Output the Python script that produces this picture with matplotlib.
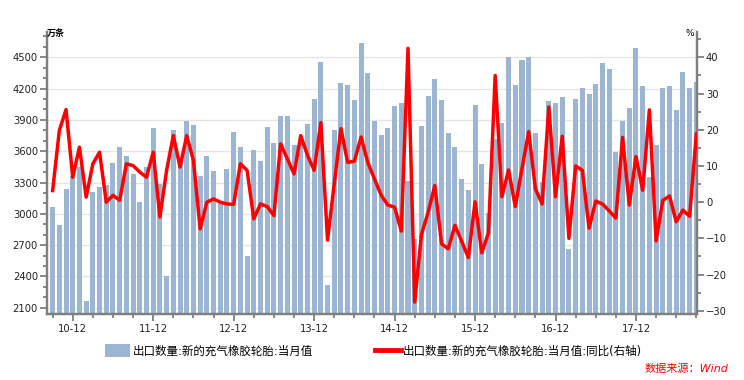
import numpy as np
import pandas as pd
import matplotlib
matplotlib.use("Agg")
import matplotlib.pyplot as plt
from matplotlib.patches import Patch
from matplotlib.lines import Line2D

# monthly data, 2010-09 .. 2018-09
months = pd.period_range("2010-09", "2018-09", freq="M").strftime("%y-%m").tolist()

export_qty = [3065, 2893, 3238, 3360, 3452, 2164, 3209, 3257, 3276, 3487, 3640, 3554,
              3381, 3113, 3449, 3823, 3286, 2404, 3804, 3540, 3890, 3852, 3363, 3554,
              3410, 3113, 3430, 3785, 3640, 2596, 3611, 3506, 3833, 3679, 3938, 3938,
              3660, 3690, 3862, 4101, 4456, 2318, 3804, 4254, 4235, 4091, 4638, 4350,
              3890, 3756, 3823, 4034, 4062, 3318, 2760, 3842, 4130, 4293, 4091, 3775,
              3640, 3334, 3228, 4043, 3478, 3008, 3717, 3871, 4504, 4235, 4475, 4504,
              3775, 3305, 4082, 4062, 4120, 2662, 4101, 4206, 4149, 4245, 4446, 4388,
              3592, 3890, 4014, 4590, 4225, 3353, 3660, 4206, 4225, 3994, 4359, 4206,
              4264]

export_yoy = [3.2, 19.8, 25.6, 6.9, 15.2, 1.4, 10.6, 13.8, 0.0, 1.9, 0.5, 10.6,
              10.1, 8.3, 6.9, 13.8, -4.1, 8.8, 18.4, 9.7, 18.4, 11.5, -7.4, 0.0,
              0.9, 0.0, -0.5, -0.6, 10.6, 8.8, -4.6, -0.5, -1.2, -3.7, 16.1, 12.0,
              7.8, 18.4, 13.0, 8.8, 22.0, -10.5, 5.1, 20.3, 11.0, 11.3, 18.0, 11.0,
              6.4, 1.9, -0.8, -1.4, -8.0, 42.5, -27.6, -9.0, -2.8, 4.6, -11.5, -12.9,
              -6.4, -10.8, -15.3, 0.1, -14.0, -8.5, 35.0, 1.5, 8.9, -1.2, 9.3, 19.5,
              3.7, -0.5, 26.3, 1.5, 18.2, -10.0, 10.0, 8.8, -7.2, 0.3, -0.5, -2.4,
              -4.4, 17.9, -0.8, 12.6, 3.3, 25.5, -10.7, 0.5, 1.7, -5.4, -2.2, -3.9,
              18.8]

bar_label = "出口数量:新的充气橡胶轮胎:当月值"
line_label = "出口数量:新的充气橡胶轮胎:当月值:同比(右轴)"

plt.rcParams['font.family'] = ['DejaVu Sans', 'Noto Sans CJK SC']

bar_color = "#9bb5d3"
spine_color = "#7f7f7f"

fig = plt.figure(figsize=(7.44, 3.80), dpi=100)
ax = fig.add_axes([47 / 744, 1 - 314 / 380, 650 / 744, 282.3 / 380])
ax2 = ax.twinx()

x = np.arange(len(months))
ax.bar(x, export_qty, width=0.75, color=bar_color, zorder=2)
ax2.plot(x, export_yoy, color="red", linewidth=2.5, zorder=3)

ax.set_xlim(-0.84, len(months) - 0.9)
ax.set_ylim(2040, 4745)
ax2.set_ylim(-30.9, 47.1)

ax.set_yticks(np.arange(2100, 4501, 300))
ax.set_yticks(np.arange(2100, 4701, 100), minor=True)
ax2.set_yticks(np.arange(-30, 41, 10))
ax2.set_yticks(np.arange(-30, 46, 5), minor=True)

ax.yaxis.grid(True, color="#e6e6e6", linewidth=1)
ax.set_axisbelow(True)

# x ticks every 3 months, labels at December
tick_pos = x[::3]
label_pos = [i for i, m in enumerate(months) if m.endswith("-12")]
ax.set_xticks(label_pos)
ax.set_xticklabels([months[i] for i in label_pos])
ax.set_xticks([p for p in tick_pos if p not in label_pos], minor=True)

for a in (ax, ax2):
    a.spines['top'].set_visible(False)
    for s in ('left', 'right', 'bottom'):
        a.spines[s].set_color(spine_color)
        a.spines[s].set_linewidth(1.6)
    a.tick_params(which='major', length=5, width=1.3, color=spine_color,
                  labelsize=7.2, labelcolor="#222222", pad=1.5)
    a.tick_params(which='minor', length=3, width=1.3, color=spine_color)

ax.tick_params(axis='x', which='major', length=5, pad=2)

fig.text(47 / 744, 1 - 33 / 380, "万条", fontsize=6.5, ha='left', va='center',
         fontweight='bold')
fig.text(694 / 744, 1 - 33 / 380, "%", fontsize=6.5, ha='right', va='center')

handles = [Patch(facecolor=bar_color, edgecolor='none'),
           Line2D([0], [0], color='red', linewidth=3.5)]
fig.legend(handles, [bar_label, line_label], loc='center left',
           bbox_to_anchor=(105 / 744, 1 - 351 / 380), ncol=2, frameon=False,
           fontsize=8.3, handlelength=2.2, handleheight=1.3, handletextpad=0.2,
           columnspacing=5.4, borderaxespad=0, borderpad=0)

fig.text(728 / 744, 1 - 369 / 380, "数据来源：Wind", color='red', fontsize=8,
         style='italic', ha='right', va='center')

fig.savefig("out.png", dpi=100)
